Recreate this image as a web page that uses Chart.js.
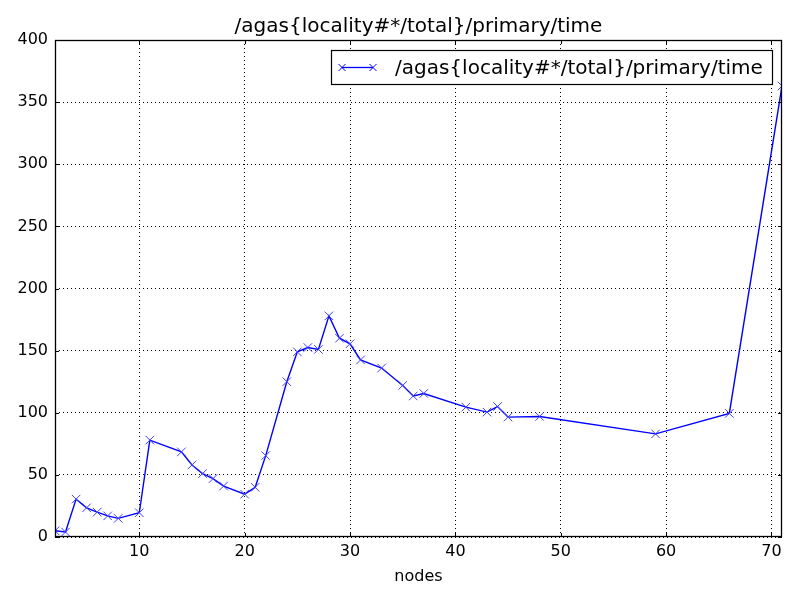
<!DOCTYPE html>
<html>
<head>
<meta charset="utf-8">
<script src="https://cdn.jsdelivr.net/npm/chart.js@4/dist/chart.umd.min.js"></script>
<style>
  html, body { margin: 0; padding: 0; background: #fff; }
  #wrap { width: 800px; height: 600px; }
</style>
</head>
<body>
<div id="wrap"><canvas id="chart" width="800" height="600"></canvas></div>
<script>
const seriesName = '/agas{locality#*/total}/primary/time';
const nodes = [2, 3, 4, 5, 6, 7, 8, 10, 11, 14, 15, 16, 17, 18, 20, 21, 22, 24, 25, 26, 27, 28, 29, 30, 31, 33, 35, 36, 37, 41, 43, 44, 45, 48, 59, 66, 71];
const times = [5, 4, 30.5, 23.5, 20, 17, 15, 19.5, 78, 68.5, 58, 51, 47, 41, 34.5, 40, 65.5, 125, 149, 152.5, 151, 178, 160, 155.5, 142.5, 136, 122, 113.5, 115.5, 104.5, 100.5, 105, 96.5, 97, 83, 99.5, 363];
const xTicks = [10, 20, 30, 40, 50, 60, 70];
const yTicks = [0, 50, 100, 150, 200, 250, 300, 350, 400];

const FONT = 'DejaVu Sans';

// matplotlib-like frame, inward ticks, title over the axes and legend inside
const framePlugin = {
  id: 'frame',
  afterDraw(chart) {
    const { ctx, chartArea: a, scales } = chart;
    ctx.save();
    ctx.strokeStyle = '#000';
    ctx.lineWidth = 1.3;
    ctx.strokeRect(a.left + 0.5, a.top + 0.5, a.right - a.left - 1, a.bottom - a.top - 1);
    ctx.lineWidth = 1;
    ctx.beginPath();
    xTicks.forEach(v => {
      const px = Math.round(scales.x.getPixelForValue(v)) + 0.5;
      ctx.moveTo(px, a.bottom); ctx.lineTo(px, a.bottom - 4);
      ctx.moveTo(px, a.top); ctx.lineTo(px, a.top + 4);
    });
    yTicks.forEach(v => {
      const py = Math.round(scales.y.getPixelForValue(v)) + 0.5;
      ctx.moveTo(a.left, py); ctx.lineTo(a.left + 4, py);
      ctx.moveTo(a.right, py); ctx.lineTo(a.right - 4, py);
    });
    ctx.stroke();

    // title, centred on the plot area
    ctx.fillStyle = '#000';
    ctx.font = '20px "' + FONT + '"';
    ctx.textBaseline = 'middle';
    ctx.textAlign = 'center';
    ctx.fillText(seriesName, (a.left + a.right) / 2, 27);

    // legend box
    const bx = 331.5, by = 50.5, bw = 441, bh = 34;
    ctx.fillStyle = '#fff';
    ctx.fillRect(bx, by, bw, bh);
    ctx.lineWidth = 1.2;
    ctx.strokeRect(bx, by, bw, bh);
    const ly = by + bh / 2;
    ctx.lineWidth = 1.3;
    ctx.strokeStyle = '#0000ff';
    ctx.beginPath();
    ctx.moveTo(342, ly); ctx.lineTo(373, ly);
    ctx.stroke();
    ctx.lineWidth = 1;
    ctx.beginPath();
    [342, 373].forEach(cx => {
      ctx.moveTo(cx - 3.5, ly - 3.5); ctx.lineTo(cx + 3.5, ly + 3.5);
      ctx.moveTo(cx - 3.5, ly + 3.5); ctx.lineTo(cx + 3.5, ly - 3.5);
    });
    ctx.stroke();
    ctx.fillStyle = '#000';
    ctx.textAlign = 'left';
    ctx.fillText(seriesName, 395, ly + 1);
    ctx.restore();
  }
};

new Chart(document.getElementById('chart'), {
  type: 'line',
  data: {
    datasets: [{
      label: seriesName,
      data: nodes.map((n, i) => ({ x: n, y: times[i] })),
      borderColor: '#0000ff',
      backgroundColor: '#0000ff',
      borderWidth: 1.4,
      pointStyle: 'crossRot',
      pointRadius: 6,
      pointBorderWidth: 1,
      pointBorderColor: '#4040ff',
      fill: false,
      tension: 0
    }]
  },
  options: {
    responsive: false,
    animation: false,
    layout: { padding: { left: 0, right: 18, top: 40, bottom: 0 } },
    plugins: {
      legend: { display: false },
      tooltip: { enabled: false },
      title: { display: false }
    },
    scales: {
      x: {
        type: 'linear',
        min: 2,
        max: 71,
        afterBuildTicks: s => { s.ticks = xTicks.map(v => ({ value: v })); },
        afterFit: s => { s.height = 63; },
        grid: { color: '#000', lineWidth: 1, drawTicks: false },
        border: { display: false, dash: [1, 3] },
        ticks: { color: '#000', font: { family: FONT, size: 16 }, padding: 5, maxRotation: 0 },
        title: {
          display: true,
          text: 'nodes',
          color: '#000',
          font: { family: FONT, size: 16 },
          padding: { top: 0, bottom: 14 }
        }
      },
      y: {
        min: 0,
        max: 400,
        afterBuildTicks: s => { s.ticks = yTicks.map(v => ({ value: v })); },
        afterFit: s => { s.width = 55; },
        grid: { color: '#000', lineWidth: 1, drawTicks: false },
        border: { display: false, dash: [1, 3] },
        ticks: { color: '#000', font: { family: FONT, size: 16 }, padding: 7 }
      }
    }
  },
  plugins: [framePlugin]
});
</script>
</body>
</html>
